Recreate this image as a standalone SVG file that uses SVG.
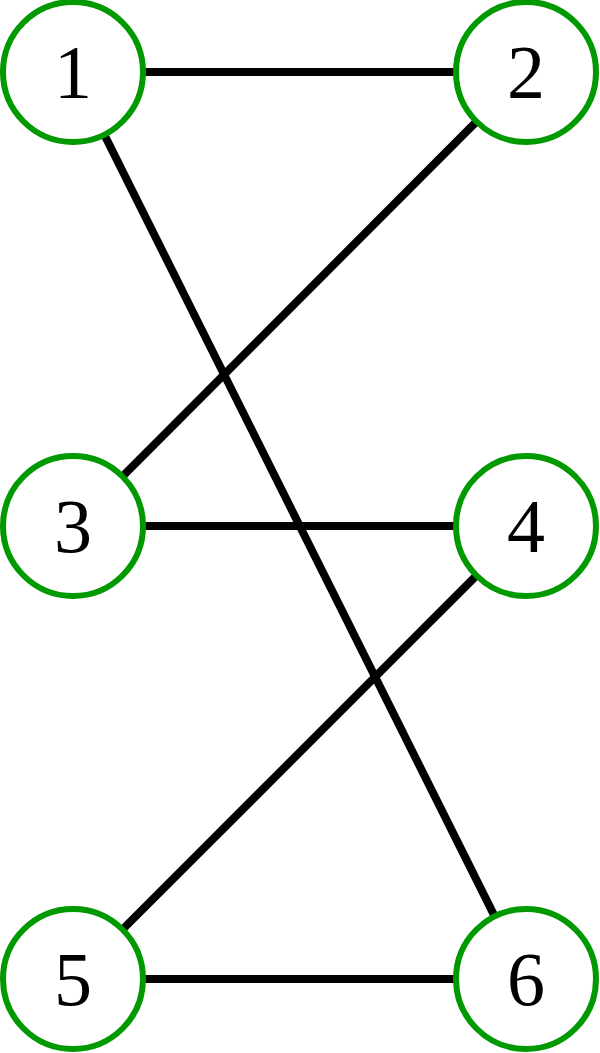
<svg xmlns="http://www.w3.org/2000/svg" width="600" height="1053" viewBox="0 0 600 1053">
<style>
.edge{stroke:#000;stroke-width:8;fill:none}
.node circle{fill:#fff;stroke:#009900;stroke-width:6}
.node text{font-family:"Liberation Serif",serif;font-size:76px;fill:#000;text-anchor:middle}
</style>
<rect width="600" height="1053" fill="#fff"/>
<g id="edges">
<line class="edge" x1="73" y1="72" x2="526" y2="72"/>
<line class="edge" x1="73" y1="72" x2="526" y2="979"/>
<line class="edge" x1="526" y1="72" x2="73" y2="526"/>
<line class="edge" x1="73" y1="526" x2="526" y2="526"/>
<line class="edge" x1="526" y1="526" x2="73" y2="979"/>
<line class="edge" x1="73" y1="979" x2="526" y2="979"/>
</g>
<g id="node1" class="node"><circle cx="73" cy="72" r="70"/><text x="73" y="98">1</text></g>
<g id="node2" class="node"><circle cx="526" cy="72" r="70"/><text x="526" y="98">2</text></g>
<g id="node3" class="node"><circle cx="73" cy="526" r="70"/><text x="73" y="552">3</text></g>
<g id="node4" class="node"><circle cx="526" cy="526" r="70"/><text x="526" y="552">4</text></g>
<g id="node5" class="node"><circle cx="73" cy="979" r="70"/><text x="73" y="1005">5</text></g>
<g id="node6" class="node"><circle cx="526" cy="979" r="70"/><text x="526" y="1005">6</text></g>
</svg>
